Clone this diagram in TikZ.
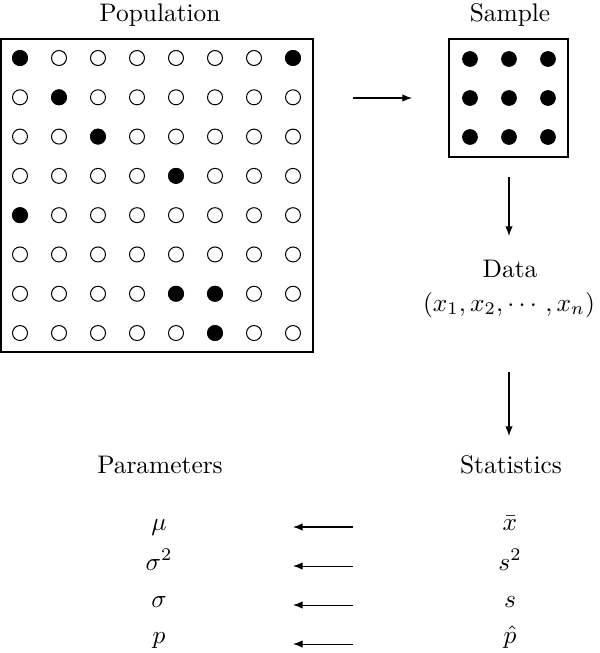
\documentclass[tikz,border=0pt]{standalone}
\usetikzlibrary{arrows.meta}
\begin{document}
\begin{tikzpicture}[x=0.3937pt,y=-0.3937pt,
  frame/.style={draw,line width=0.6pt},
  opendot/.style={circle,draw,line width=0.4pt,inner sep=0pt,minimum size=5.9pt,fill=white},
  fulldot/.style={circle,fill=black,inner sep=0pt,minimum size=6.2pt},
  lbl/.style={anchor=base,inner sep=0pt},
  arr/.style={line width=0.4pt,-{Latex[length=3.8pt,width=2.9pt]}}]
\useasboundingbox (0,0) rectangle (600,653);
% Population frame
\node[frame,minimum width=312*0.3937pt,minimum height=313*0.3937pt,inner sep=0pt] (pop) at (157,195.5) {};
\foreach \r in {1,...,8}{
  \foreach \c in {1,...,8}{
    \pgfmathsetmacro{\xx}{20+39*(\c-1)}
    \pgfmathsetmacro{\yy}{58+39.29*(\r-1)}
    \node[opendot] (p-\r-\c) at (\xx,\yy) {};
  }
}
\foreach \r/\c in {1/1,1/8,2/2,3/3,4/5,5/1,7/5,7/6,8/6}{
  \node[fulldot] (f-\r-\c) at (p-\r-\c) {};
}
% Sample frame
\node[frame,minimum width=119*0.3937pt,minimum height=118*0.3937pt,inner sep=0pt] (samp) at (508.5,98) {};
\foreach \r in {1,2,3}{
  \foreach \c in {1,2,3}{
    \pgfmathsetmacro{\xx}{470+39*(\c-1)}
    \pgfmathsetmacro{\yy}{59+39*(\r-1)}
    \node[fulldot] (s-\r-\c) at (\xx,\yy) {};
  }
}
% Titles
\node[lbl] (tpop) at (160,22) {Population};
\node[lbl] (tsamp) at (510,22) {Sample};
\node[lbl] (tdata) at (510,277) {Data};
\node[lbl] (ttuple) at (509,311) {$(x_1, x_2, \cdots\,, x_n)$};
\node[lbl] (tpar) at (160,473) {Parameters};
\node[lbl] (tstat) at (511,473) {Statistics};
% Parameters and statistics
\node[lbl] (mu) at (159,530) {$\mu$};
\node[lbl] (sig2) at (159,570) {$\sigma^2$};
\node[lbl] (sig) at (159,607) {$\sigma$};
\node[lbl] (pp) at (159,643) {$p$};
\node[lbl] (xbar) at (510,530) {$\bar{x}$};
\node[lbl] (s2) at (510,570) {$s^2$};
\node[lbl] (ss) at (510,607) {$s$};
\node[lbl] (phat) at (510,643) {$\hat{p}$};
% Arrow endpoints
\coordinate (a1s) at (353,98);
\coordinate (a1e) at (412,98);
\coordinate (a2s) at (509,177);
\coordinate (a2e) at (509,236);
\coordinate (a3s) at (509,372);
\coordinate (a3e) at (509,436);
\foreach \i/\y in {1/527,2/566,3/605,4/644}{
  \coordinate (l\i s) at (353,\y);
  \coordinate (l\i e) at (293,\y);
}
\draw[arr] (a1s) -- (a1e);
\draw[arr] (a2s) -- (a2e);
\draw[arr] (a3s) -- (a3e);
\foreach \i in {1,2,3,4}{
  \draw[arr] (l\i s) -- (l\i e);
}
\end{tikzpicture}
\end{document}
